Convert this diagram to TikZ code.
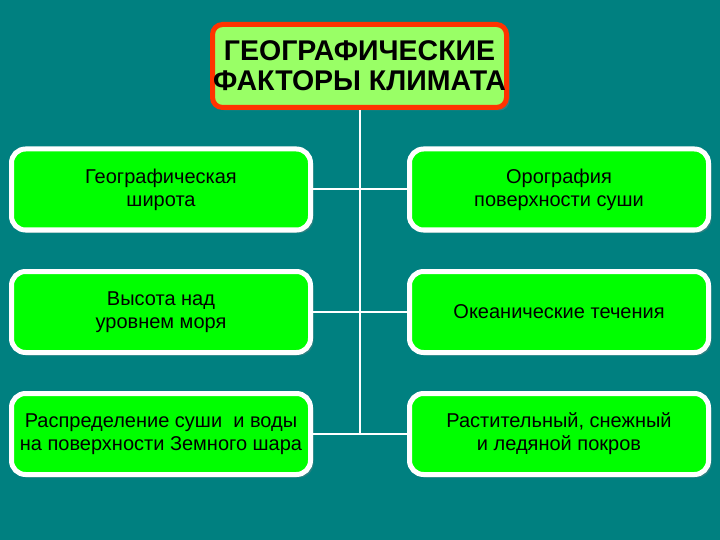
\documentclass[tikz,border=0pt]{standalone}
\usepackage{fontspec}
\setmainfont{Liberation Sans}
\usetikzlibrary{shadows}
\definecolor{seateal}{RGB}{0,128,128}
\definecolor{titlegreen}{RGB}{153,255,102}
\definecolor{titlered}{RGB}{255,51,0}
\definecolor{boxgreen}{RGB}{0,255,0}
\begin{document}
\begin{tikzpicture}
    [
    x=1pt, y=-1pt,
    title/.style={
      rectangle,
      rounded corners=10pt,
      draw=titlered,
      line width=5pt,
      fill=titlegreen,
      minimum width=294pt,
      minimum height=83pt,
      inner sep=0pt,
      align=center,
      font=\fontsize{28.5}{30}\selectfont\bfseries,
      drop shadow={shadow xshift=3pt, shadow yshift=-3pt, opacity=0.35}
    },
    factor/.style={
      rectangle,
      rounded corners=14pt,
      draw=white,
      line width=5pt,
      fill=boxgreen,
      minimum width=299pt,
      minimum height=81pt,
      inner sep=0pt,
      align=center,
      font=\fontsize{20}{23}\selectfont,
      drop shadow={shadow xshift=3pt, shadow yshift=-3pt, opacity=0.35}
    },
    link/.style={
      draw=white,
      line width=2pt
    }
    ]
    \fill[seateal] (0,0) rectangle (720,540);
    \useasboundingbox (0,0) rectangle (720,540);

    \node (climate) at (359.5,66) [title] {ГЕОГРАФИЧЕСКИЕ\\ФАКТОРЫ КЛИМАТА};

    \node (latitude) at (161,189.5) [factor] {Географическая\\широта};
    \node (orography) at (559,189.5) [factor] {Орография\\поверхности суши};
    \node (altitude) at (161,312) [factor] {Высота над\\уровнем моря};
    \node (currents) at (559,312) [factor] {Океанические течения};
    \node (landwater) at (161,434) [factor] {Распределение суши \ и воды\\на поверхности Земного шара};
    \node (cover) at (559,434) [factor] {Растительный, снежный\\и ледяной покров};

    % connectors
    \coordinate (trunk) at (climate.south |- landwater.east);
    \path[link] (climate.south) -- (trunk);
    \path[link] (latitude.east) -- (orography.west);
    \path[link] (altitude.east) -- (currents.west);
    \path[link] (landwater.east) -- (cover.west);
\end{tikzpicture}
\end{document}
